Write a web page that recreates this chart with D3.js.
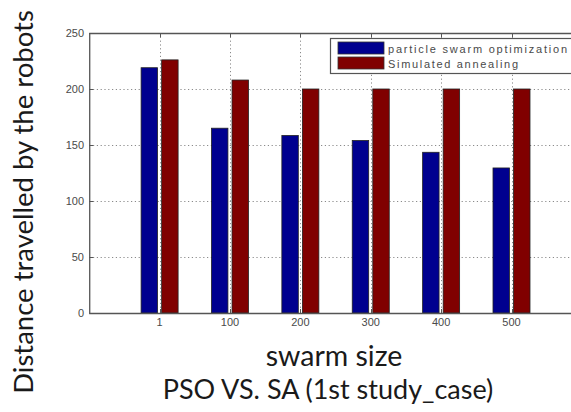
<!DOCTYPE html>
<html>
<head>
<meta charset="utf-8">
<script src="https://cdn.jsdelivr.net/npm/d3@7"></script>
<style>
  html, body { margin: 0; padding: 0; background: #fff; }
  svg { display: block; }
</style>
</head>
<body>
<svg id="chart" width="571" height="412"></svg>
<script>
const categories = ["1", "100", "200", "300", "400", "500"];
const seriesNames = ["particle swarm optimization", "Simulated annealing"];
const psoValues = [219, 165, 158.5, 154, 143.5, 129.5];
const saValues = [226, 208, 200, 200, 200, 200];
const yTicks = [0, 50, 100, 150, 200, 250];
const colors = ["#00008f", "#800000"];

const svg = d3.select("#chart");

const y = d3.scaleLinear().domain([0, 250]).range([313, 33]);
const xPos = d3.scalePoint().domain(categories).range([159.6, 511.5]);
const step = xPos.step();
const xLeft = xPos(categories[0]) - step;
const xRight = xPos(categories[categories.length - 1]) + 2 * step;
const inner = d3.scaleBand().domain(seriesNames).range([-18.5, 18.5]).paddingInner(0.2);

const data = categories.map((c, i) => ({ cat: c, values: [psoValues[i], saValues[i]] }));

// grid
const grid = svg.append("g").attr("stroke", "#8a8a8a").attr("stroke-width", 1).attr("stroke-dasharray", "1.2,2.6");
yTicks.filter(t => t > 0 && t < 250).forEach(t => {
  grid.append("line").attr("x1", xLeft).attr("x2", xRight).attr("y1", Math.round(y(t)) + 0.5).attr("y2", Math.round(y(t)) + 0.5);
});
categories.forEach(c => {
  grid.append("line").attr("x1", Math.round(xPos(c)) + 0.5).attr("x2", Math.round(xPos(c)) + 0.5).attr("y1", y(250)).attr("y2", y(0));
});

// bars
const groups = svg.append("g").selectAll("g").data(data).join("g")
  .attr("transform", d => `translate(${xPos(d.cat)},0)`);
groups.selectAll("rect").data(d => d.values.map((v, k) => ({ v, k })))
  .join("rect")
  .attr("x", d => inner(seriesNames[d.k]))
  .attr("width", inner.bandwidth())
  .attr("y", d => y(d.v))
  .attr("height", d => y(0) - y(d.v))
  .attr("fill", d => colors[d.k])
  .attr("stroke", "#222")
  .attr("stroke-width", 0.8);

// axes frame
const axisColor = "#555";
svg.append("line").attr("x1", xLeft).attr("x2", xRight).attr("y1", y(0) + 0.5).attr("y2", y(0) + 0.5).attr("stroke", axisColor).attr("stroke-width", 1.3);
svg.append("line").attr("x1", xLeft).attr("x2", xRight).attr("y1", y(250) + 0.5).attr("y2", y(250) + 0.5).attr("stroke", axisColor).attr("stroke-width", 1.3);
svg.append("line").attr("x1", xLeft + 0.5).attr("x2", xLeft + 0.5).attr("y1", y(250)).attr("y2", y(0)).attr("stroke", axisColor).attr("stroke-width", 1.3);

// ticks on top and bottom
categories.forEach(c => {
  const xx = Math.round(xPos(c)) + 0.5;
  svg.append("line").attr("x1", xx).attr("x2", xx).attr("y1", y(250)).attr("y2", y(250) + 4).attr("stroke", axisColor);
  svg.append("line").attr("x1", xx).attr("x2", xx).attr("y1", y(0)).attr("y2", y(0) - 4).attr("stroke", axisColor);
});
yTicks.forEach(t => {
  svg.append("line").attr("x1", xLeft).attr("x2", xLeft + 4).attr("y1", Math.round(y(t)) + 0.5).attr("y2", Math.round(y(t)) + 0.5).attr("stroke", axisColor);
});

// tick labels
const tickFont = "'Liberation Sans', Arial, sans-serif";
svg.append("g").selectAll("text").data(yTicks).join("text")
  .attr("x", 84).attr("y", d => y(d) + 4)
  .attr("text-anchor", "end")
  .attr("font-family", tickFont).attr("font-size", 11).attr("fill", "#4a4a4a")
  .text(d => d);
svg.append("g").selectAll("text").data(categories).join("text")
  .attr("x", d => xPos(d)).attr("y", 326)
  .attr("text-anchor", "middle")
  .attr("font-family", tickFont).attr("font-size", 11).attr("fill", "#4a4a4a")
  .text(d => d);

// legend
const lg = svg.append("g");
lg.append("rect").attr("x", 330.5).attr("y", 38.5).attr("width", 260).attr("height", 35)
  .attr("fill", "#fff").attr("stroke", "#555").attr("stroke-width", 1.2);
seriesNames.forEach((s, k) => {
  lg.append("rect").attr("x", 338).attr("y", 42 + k * 15).attr("width", 46).attr("height", 12)
    .attr("fill", colors[k]).attr("stroke", "#333").attr("stroke-width", 0.8);
  lg.append("text").attr("x", 388).attr("y", 53 + k * 15)
    .attr("font-family", tickFont).attr("font-size", 11).attr("fill", "#4a4a4a")
    .attr("textLength", k === 0 ? 179 : 130).attr("lengthAdjust", "spacing")
    .text(s);
});

// titles
const labelFont = "Lato, 'Open Sans', sans-serif";
svg.append("text").attr("x", 334).attr("y", 366)
  .attr("text-anchor", "middle").attr("font-family", labelFont).attr("font-size", 28.5).attr("fill", "#1a1a1a")
  .text("swarm size");
svg.append("text").attr("x", 328).attr("y", 399)
  .attr("text-anchor", "middle").attr("font-family", labelFont).attr("font-size", 27).attr("fill", "#1a1a1a")
  .text("PSO VS. SA (1st study_case)");
svg.append("text").attr("transform", "translate(33,202) rotate(-90)")
  .attr("text-anchor", "middle").attr("font-family", labelFont).attr("font-size", 27.5).attr("fill", "#1a1a1a")
  .text("Distance travelled by the robots");
</script>
</body>
</html>
